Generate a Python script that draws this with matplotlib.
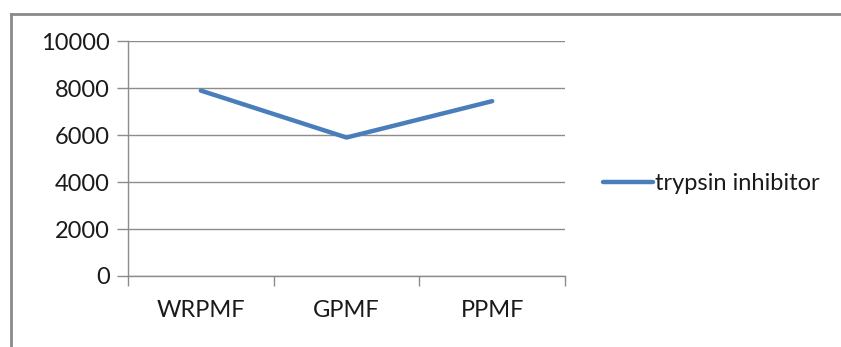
import matplotlib
matplotlib.use("Agg")
import matplotlib.pyplot as plt
from matplotlib.lines import Line2D
from matplotlib.ticker import FixedLocator, NullFormatter

categories = ["WRPMF", "GPMF", "PPMF"]
trypsin_inhibitor = [7900, 5900, 7450]
y_ticks = [0, 2000, 4000, 6000, 8000, 10000]

plt.rcParams["font.family"] = ["Lato", "DejaVu Sans"]

W, H = 841, 347
fs = 17
fig = plt.figure(figsize=(W / 100, H / 100), dpi=100)
fig.patch.set_facecolor("white")

# plot area in pixel coordinates
left, right, top, bottom = 128, 565, 41.3, 276
ax = fig.add_axes([left / W, 1 - bottom / H, (right - left) / W, (bottom - top) / H])

grid_col = "#8c8c8c"
x = list(range(len(categories)))
ax.plot(x, trypsin_inhibitor, color="#4a7ebb", lw=3.2, solid_capstyle="round",
        label="trypsin inhibitor", zorder=3)

ax.set_xlim(-0.5, len(categories) - 0.5)
ax.set_ylim(0, 10000)
ax.set_yticks(y_ticks)
ax.set_yticklabels([str(v) for v in y_ticks], fontsize=fs, color="#1a1a1a")
ax.set_xticks(x)
ax.set_xticklabels(categories, fontsize=fs, color="#1a1a1a")
ax.tick_params(axis="x", length=0, pad=17)
ax.tick_params(axis="y", length=8, width=1, color=grid_col, pad=5)

# category boundary ticks on the x axis
ax.xaxis.set_minor_locator(FixedLocator([i - 0.5 for i in range(len(categories) + 1)]))
ax.xaxis.set_minor_formatter(NullFormatter())
ax.tick_params(axis="x", which="minor", length=7, width=1, color=grid_col)

ax.grid(axis="y", color=grid_col, lw=1)
ax.set_axisbelow(True)
for side in ("top", "right"):
    ax.spines[side].set_visible(False)
for side in ("left", "bottom"):
    ax.spines[side].set_color(grid_col)
    ax.spines[side].set_linewidth(1)

leg = fig.legend(loc="center left", bbox_to_anchor=(603 / W, 1 - 184 / H),
                 frameon=False, fontsize=fs, handlelength=2.1, handletextpad=0.1,
                 borderpad=0, borderaxespad=0)
for t in leg.get_texts():
    t.set_color("#1a1a1a")

# outer chart frame (top and left edges)
frame_col = "#8a8a8a"
fig.add_artist(Line2D([10.5 / W, 10.5 / W], [0, 1 - 14 / H], transform=fig.transFigure,
                      color=frame_col, lw=2))
fig.add_artist(Line2D([10.5 / W, 1], [1 - 14 / H, 1 - 14 / H], transform=fig.transFigure,
                      color=frame_col, lw=2))

fig.savefig("out.png", dpi=100, facecolor="white")
